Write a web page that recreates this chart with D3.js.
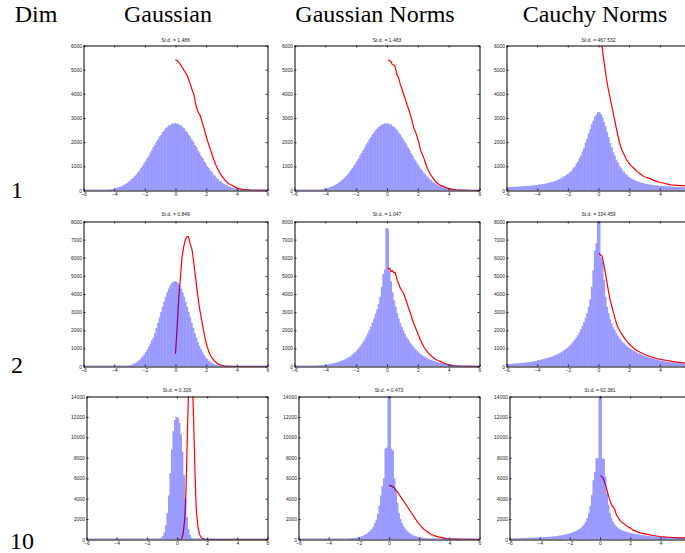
<!DOCTYPE html>
<html>
<head>
<meta charset="utf-8">
<script src="https://cdn.jsdelivr.net/npm/d3@7"></script>
<style>
body { margin: 0; background: #fff; }
svg text { font-family: "Liberation Sans", Arial, sans-serif; }
.head { font-family: "Liberation Serif", "Times New Roman", serif; font-size: 24px; fill: #000; }
</style>
</head>
<body>
<svg id="chart" width="685" height="553"></svg>
<script>
var columns = ['Gaussian', 'Gaussian Norms', 'Cauchy Norms']
var dims = ['1', '2', '10']
var stds = [['1.486', '1.483', '467.532'], ['0.849', '1.047', '334.459'], ['0.326', '0.473', '62.381']]

var xTicks = [-6, -4, -2, 0, 2, 4, 6]
var yTicks1 = [0, 1000, 2000, 3000, 4000, 5000, 6000]
var yTicks2 = [0, 1000, 2000, 3000, 4000, 5000, 6000, 7000, 8000]
var yTicks10 = [0, 2000, 4000, 6000, 8000, 10000, 12000, 14000]

// histogram counts, bins of 0.1 from -6 to 6
var binStart = -6
var binWidth = 0.1

var gauss1 = [1,2,2,3,3,4,5,6,7,9,
  11,14,17,22,27,34,41,50,61,75,
  88,107,124,150,172,206,235,276,313,365,
  412,476,530,606,672,760,835,936,1020,1130,
  1220,1345,1440,1566,1662,1795,1890,2020,2105,2230,
  2305,2420,2475,2580,2615,2700,2710,2775,2760,2790,
  2765,2770,2710,2695,2615,2580,2475,2420,2300,2230,
  2100,2025,1880,1800,1660,1570,1430,1350,1215,1140,
  1010,945,830,770,665,615,525,480,405,370,
  310,280,230,210,170,152,122,108,86,76,
  60,51,40,35,27,23,18,15,12,10,
  8,7,6,5,4,3,3,2,2,1]

var gaussNorm1 = [2,2,3,3,4,4,5,7,8,9,
  12,13,18,21,28,33,42,49,62,73,
  90,104,127,146,176,201,238,271,318,360,
  418,470,537,598,680,752,842,928,1030,1120,
  1230,1330,1452,1550,1675,1780,1905,2000,2120,2210,
  2320,2400,2490,2560,2630,2675,2730,2745,2780,2760,
  2775,2745,2730,2670,2630,2555,2495,2395,2320,2205,
  2120,1995,1905,1775,1680,1545,1450,1325,1235,1115,
  1030,920,845,745,685,595,540,465,420,358,
  320,268,240,200,177,145,128,103,91,72,
  62,48,42,33,28,21,18,14,12,9,
  8,6,6,4,4,3,3,2,2,1]

var cauchyNorm1 = [140,146,143,150,148,157,152,163,160,170,
  172,179,178,189,188,199,200,212,213,225,
  236,251,254,270,275,294,300,322,330,356,
  366,395,410,446,466,512,535,588,614,668,
  700,768,822,920,990,1112,1200,1345,1450,1615,
  1770,1975,2140,2365,2530,2745,2890,3055,3140,3240,
  3250,3160,3040,2835,2660,2415,2210,1965,1790,1590,
  1440,1270,1160,1020,940,830,770,680,640,570,
  535,485,460,420,400,365,355,326,314,292,
  283,265,259,243,239,225,222,209,207,195,
  194,184,183,174,173,165,165,157,157,150,
  151,144,145,138,140,134,136,130,132,127]

var gauss2 = [0,0,0,0,0,0,0,0,0,0,
  1,1,1,1,1,2,2,2,3,3,
  4,5,7,9,12,17,23,32,43,58,
  78,104,137,178,228,290,365,450,550,660,
  790,930,1090,1260,1450,1590,1840,2120,2400,2700,
  3000,3300,3580,3850,4090,4300,4470,4600,4670,4700,
  4670,4600,4470,4300,4090,3850,3580,3300,3000,2700,
  2400,2120,1840,1590,1350,1140,950,780,640,510,
  408,322,251,194,147,111,83,61,44,32,
  23,16,11,8,5,4,3,2,1,1,
  0,0,0,0,0,0,0,0,0,0,
  0,0,0,0,0,0,0,0,0,0]

var gaussNorm2 = [19,20,21,22,24,26,28,30,33,36,
  40,44,48,53,59,65,72,80,88,97,
  108,120,135,150,165,185,205,230,255,285,
  315,350,390,430,480,530,590,660,730,810,
  900,1000,1110,1230,1360,1500,1650,1820,2000,2200,
  2420,2650,2900,3150,3450,3850,4400,5100,5350,7650,
  7600,5300,4700,4100,3650,3300,2950,2650,2400,2180,
  1980,1800,1640,1500,1370,1250,1140,1040,940,850,
  770,700,630,570,520,470,430,390,355,320,
  290,265,240,215,195,178,160,145,132,120,
  108,98,88,80,72,65,58,52,47,42,
  38,34,31,28,26,24,22,20,19,18]

var cauchyNorm2 = [137,142,147,152,158,164,170,177,184,192,
  200,210,220,230,241,253,266,280,295,310,
  345,362,380,400,420,440,465,490,515,545,
  575,610,650,690,735,780,830,890,950,1020,
  1100,1180,1270,1370,1480,1600,1730,1880,2050,2250,
  2450,2700,2950,3300,3700,4400,5300,6400,6800,10500,
  9500,6000,5800,4800,3850,3300,2950,2600,2380,2170,
  2000,1830,1690,1570,1450,1360,1270,1190,1110,1050,
  990,930,880,830,785,745,705,670,635,600,
  570,540,510,480,455,430,405,385,365,345,
  320,305,290,276,262,250,238,227,216,206,
  196,187,178,170,162,155,148,142,136,130]

var gauss10 = [0,0,0,0,0,0,0,0,0,0,
  0,0,0,0,0,0,0,0,0,0,
  0,0,0,0,0,0,0,0,0,0,
  0,0,0,0,0,0,0,0,0,0,
  0,0,0,1,2,5,12,28,60,150,
  330,700,1400,2600,4300,6500,8800,10600,11700,12000,
  11900,11400,10300,8600,6300,4000,2200,1050,450,170,
  60,20,7,3,1,0,0,0,0,0,
  0,0,0,0,0,0,0,0,0,0,
  0,0,0,0,0,0,0,0,0,0,
  0,0,0,0,0,0,0,0,0,0,
  0,0,0,0,0,0,0,0,0,0]

var gaussNorm10 = [4,5,5,5,6,6,7,7,8,8,
  9,10,11,12,13,14,15,17,19,21,
  23,26,29,32,36,40,45,50,56,63,
  71,80,90,102,116,132,150,170,195,225,
  260,300,350,420,500,600,730,870,1030,1200,
  1600,1950,2500,3300,4300,5200,6000,8900,9000,16500,
  15500,8900,8700,6000,4800,3600,2600,2000,1600,1300,
  1080,900,750,630,530,450,380,325,280,245,
  215,188,165,145,127,112,99,88,78,69,
  61,54,48,42,37,33,29,26,23,20,
  18,16,14,13,12,11,10,9,8,8,
  7,7,6,6,5,5,5,4,4,4]

var cauchyNorm10 = [100,105,110,115,120,125,130,135,140,145,
  150,155,160,166,172,178,184,191,198,205,
  213,221,230,240,250,260,270,282,295,310,
  325,345,365,390,415,445,475,510,550,590,
  640,690,750,810,880,960,1050,1170,1330,1500,
  1750,2100,2600,3300,4350,5800,6600,7950,7950,16500,
  15000,7950,7900,6150,4500,3400,2600,2100,1750,1480,
  1300,1170,1060,980,910,850,795,745,700,660,
  620,585,555,525,500,475,452,430,410,392,
  375,358,342,328,314,301,289,278,268,258,
  249,240,232,224,217,210,203,196,190,184,
  178,173,168,163,158,153,149,145,141,137]

// red curves as [x, count]
var gauss1Curve = [[0,5420],[0.15,5350],[0.33,5210],[0.45,5080],[0.54,4990],[0.65,4880],[0.76,4780],[0.87,4560],[0.98,4380],[1.09,4150],[1.2,3970],[1.3,3620],[1.41,3350],[1.52,3200],[1.63,3070],[1.74,2820],[1.85,2590],[1.96,2350],[2.07,2100],[2.17,1900],[2.28,1690],[2.39,1480],[2.5,1270],[2.61,1090],[2.72,930],[2.88,750],[3.04,580],[3.2,450],[3.37,330],[3.53,260],[3.7,210],[3.86,150],[4.02,100],[4.24,65],[4.46,40],[4.7,25],[4.9,15],[5.3,6],[5.7,2],[6,0]]

var gaussNorm1Curve = [[0.04,5410],[0.15,5380],[0.26,5340],[0.33,5230],[0.39,5200],[0.5,5170],[0.58,4980],[0.65,4790],[0.76,4650],[0.87,4370],[0.98,4170],[1.09,3960],[1.2,3760],[1.3,3540],[1.41,3350],[1.52,3130],[1.63,2870],[1.74,2580],[1.85,2420],[1.96,2230],[2.07,1960],[2.17,1680],[2.28,1510],[2.39,1340],[2.5,1130],[2.61,920],[2.72,780],[2.83,650],[3.0,500],[3.15,370],[3.3,290],[3.48,210],[3.7,150],[3.91,100],[4.2,55],[4.46,30],[4.8,12],[5.2,4],[6,0]]

var cauchyNorm1Curve = [[0,7600],[0.1,6900],[0.18,6300],[0.29,5630],[0.4,5150],[0.51,4660],[0.62,4250],[0.73,3900],[0.85,3550],[0.96,3210],[1.07,2860],[1.18,2520],[1.29,2200],[1.4,1900],[1.51,1700],[1.62,1550],[1.73,1400],[1.84,1270],[1.95,1160],[2.07,1065],[2.18,1000],[2.29,930],[2.4,860],[2.51,790],[2.73,680],[2.96,580],[3.18,530],[3.4,480],[3.62,420],[3.84,370],[4.06,330],[4.29,300],[4.51,265],[4.73,235],[4.95,222],[5.18,210],[5.45,200],[5.73,190],[6,185]]

var gauss2Curve = [[0,700],[0.05,1400],[0.11,2200],[0.16,3000],[0.22,3860],[0.27,4400],[0.33,4960],[0.38,5550],[0.43,6070],[0.49,6380],[0.54,6620],[0.6,6830],[0.65,6990],[0.71,7100],[0.76,7170],[0.85,7170],[0.92,6900],[1.0,6650],[1.08,6430],[1.19,5750],[1.3,4960],[1.41,4200],[1.52,3490],[1.63,2900],[1.74,2390],[1.85,1900],[1.95,1470],[2.06,1120],[2.17,830],[2.28,620],[2.39,460],[2.55,300],[2.71,180],[2.87,100],[3.04,55],[3.2,25],[3.36,10],[3.6,3],[4,0],[6,0]]

var gaussNorm2Curve = [[0.04,5390],[0.1,5400],[0.17,5420],[0.22,5330],[0.26,5240],[0.3,5270],[0.35,5290],[0.39,5230],[0.43,5180],[0.49,5200],[0.54,5180],[0.6,4980],[0.65,4780],[0.76,4550],[0.87,4320],[0.97,4180],[1.08,4040],[1.19,3760],[1.3,3490],[1.41,3210],[1.52,2940],[1.62,2660],[1.73,2390],[1.84,2150],[1.95,1930],[2.06,1700],[2.16,1470],[2.27,1280],[2.38,1100],[2.49,960],[2.6,830],[2.7,730],[2.81,640],[2.97,510],[3.14,400],[3.3,330],[3.46,280],[3.62,210],[3.79,150],[3.95,110],[4.11,75],[4.4,40],[4.76,20],[5.2,8],[6,0]]

var cauchyNorm2Curve = [[0.04,6250],[0.13,6150],[0.22,6100],[0.28,5900],[0.33,5700],[0.38,5470],[0.43,5240],[0.49,4960],[0.54,4690],[0.6,4410],[0.65,4140],[0.71,3900],[0.76,3680],[0.82,3490],[0.87,3310],[0.93,3120],[0.98,2940],[1.04,2780],[1.09,2610],[1.15,2450],[1.2,2300],[1.3,2110],[1.41,1930],[1.52,1790],[1.63,1650],[1.74,1510],[1.85,1380],[2.01,1240],[2.17,1100],[2.33,990],[2.5,880],[2.71,790],[2.93,700],[3.15,620],[3.37,550],[3.58,490],[3.8,440],[4.13,380],[4.46,330],[4.79,285],[5.11,240],[5.38,210],[5.65,180],[6,160]]

var gauss10Curve = [[0,0],[0.2,0],[0.3,50],[0.4,500],[0.5,1800],[0.55,3000],[0.6,5000],[0.65,8000],[0.7,11000],[0.75,13800],[0.8,16000],[0.85,17300],[0.9,17700],[0.95,17300],[1.0,16000],[1.05,14200],[1.1,11700],[1.15,9000],[1.2,6200],[1.25,4000],[1.3,2500],[1.4,1100],[1.5,500],[1.6,200],[1.7,80],[1.85,20],[2,0],[6,0]]

var gaussNorm10Curve = [[0,5330],[0.06,5290],[0.11,5230],[0.17,5250],[0.22,5170],[0.28,5150],[0.33,5100],[0.39,4960],[0.44,4840],[0.5,4760],[0.55,4680],[0.66,4440],[0.77,4190],[0.88,3950],[1.0,3700],[1.11,3450],[1.22,3210],[1.33,2960],[1.44,2720],[1.55,2470],[1.66,2220],[1.77,1980],[1.88,1730],[1.99,1530],[2.1,1340],[2.21,1170],[2.32,1010],[2.43,870],[2.55,750],[2.66,630],[2.77,520],[2.94,420],[3.1,330],[3.27,260],[3.43,200],[3.66,130],[3.88,65],[4.1,45],[4.33,30],[4.8,12],[5.3,4],[6,0]]

var cauchyNorm10Curve = [[0.04,6250],[0.11,6150],[0.18,6080],[0.22,5950],[0.26,5820],[0.33,5500],[0.4,5170],[0.48,4750],[0.55,4350],[0.6,4100],[0.66,3860],[0.71,3600],[0.77,3370],[0.82,3280],[0.88,3210],[0.93,3050],[0.99,2880],[1.04,2630],[1.1,2390],[1.21,2150],[1.32,1900],[1.43,1720],[1.55,1570],[1.66,1450],[1.77,1340],[1.88,1230],[1.99,1140],[2.1,1020],[2.2,915],[2.43,770],[2.65,650],[2.87,580],[3.09,520],[3.31,450],[3.53,390],[3.75,340],[3.97,295],[4.2,260],[4.42,230],[4.64,210],[4.86,195],[5.08,180],[5.3,165],[5.65,150],[6,140]]

var hists = [[gauss1, gaussNorm1, cauchyNorm1], [gauss2, gaussNorm2, cauchyNorm2], [gauss10, gaussNorm10, cauchyNorm10]]
var curves = [[gauss1Curve, gaussNorm1Curve, cauchyNorm1Curve], [gauss2Curve, gaussNorm2Curve, cauchyNorm2Curve], [gauss10Curve, gaussNorm10Curve, cauchyNorm10Curve]]
var yTicks = [yTicks1, yTicks2, yTicks10]

// layout of the 3x3 grid (pixels)
var W = 685, H = 553
var rowTop = [45.5, 221.5, 396.5]
var rowBottom = [190.5, 366.5, 539.5]
var titleY = [41.5, 216, 392]
var colLeft = [[83.5, 294.5, 506.5], [83.5, 294.5, 506.5], [86.5, 298.5, 509.5]]
var colRight = [267.5, 479.5, 690.5]
var headX = [36, 168, 375, 595]
var dimX = [17, 17, 22]
var dimY = [198, 373, 549]

var svg = d3.select('#chart')
svg.append('rect').attr('width', W).attr('height', H).attr('fill', '#fff')

svg.selectAll('.head').data(['Dim'].concat(columns)).join('text')
  .attr('class', 'head')
  .attr('x', (d, i) => headX[i])
  .attr('y', 22)
  .attr('text-anchor', 'middle')
  .text(d => d)

svg.selectAll('.dim').data(dims).join('text')
  .attr('class', 'head dim')
  .attr('x', (d, i) => dimX[i])
  .attr('y', (d, i) => dimY[i])
  .attr('text-anchor', 'middle')
  .text(d => d)

var fmt = d3.format('d')

function drawPanel(r, c) {
  var data = hists[r][c]
  var x = d3.scaleLinear().domain([-6, 6]).range([colLeft[r][c], colRight[c]])
  var y = d3.scaleLinear().domain([0, yTicks[r][yTicks[r].length - 1]]).range([rowBottom[r], rowTop[r]])
  var id = 'clip' + r + c

  var g = svg.append('g')
  g.append('clipPath').attr('id', id).append('rect')
    .attr('x', x(-6)).attr('y', y.range()[1])
    .attr('width', x(6) - x(-6)).attr('height', y.range()[0] - y.range()[1])

  var plot = g.append('g').attr('clip-path', `url(#${id})`)

  plot.append('path').datum(curves[r][c])
    .attr('d', d3.line().x(d => x(d[0])).y(d => y(d[1])))
    .attr('fill', 'none')
    .attr('stroke', '#ff0000')
    .attr('stroke-width', 1.2)

  // bars drawn on top of the curve, translucent blue
  plot.append('g').attr('opacity', 0.4)
    .selectAll('rect').data(data).join('rect')
      .attr('x', (d, i) => x(binStart + i * binWidth))
      .attr('width', x(binWidth) - x(0) + 0.4)
      .attr('y', d => Math.min(y(d), y(0) - 1))
      .attr('height', d => Math.max(1, y(0) - y(d)))
      .attr('fill', '#0000ff')

  var bottom = g.append('g').attr('transform', `translate(0, ${y(0)})`)
    .call(d3.axisBottom(x).tickValues(xTicks).tickFormat(fmt).tickSizeInner(-2).tickSizeOuter(0).tickPadding(1.5))
  var top = g.append('g').attr('transform', `translate(0, ${y.range()[1]})`)
    .call(d3.axisTop(x).tickValues(xTicks).tickFormat('').tickSizeInner(-2).tickSizeOuter(0))
  var left = g.append('g').attr('transform', `translate(${x(-6)}, 0)`)
    .call(d3.axisLeft(y).tickValues(yTicks[r]).tickFormat(fmt).tickSizeInner(-2).tickSizeOuter(0).tickPadding(1.5))
  var right = g.append('g').attr('transform', `translate(${x(6)}, 0)`)
    .call(d3.axisRight(y).tickValues(yTicks[r]).tickFormat('').tickSizeInner(-2).tickSizeOuter(0))

  ;[bottom, top, left, right].forEach(a => {
    a.select('.domain').attr('stroke', '#000').attr('stroke-width', 1)
    a.selectAll('.tick line').attr('stroke', '#000').attr('stroke-width', 0.8)
    a.selectAll('text').attr('font-size', '5px').attr('fill', '#222')
      .style('font-family', '"Liberation Sans", Arial, sans-serif')
  })
  // the last column runs past the right edge of the figure: drop labels that fall outside
  bottom.selectAll('.tick').filter(d => x(d) + 3 > W).select('text').remove()

  g.append('text')
    .attr('x', (x(-6) + x(6)) / 2)
    .attr('y', titleY[r])
    .attr('text-anchor', 'middle')
    .attr('font-size', '5px')
    .attr('fill', '#222')
    .text('St.d. = ' + stds[r][c])
}

for (var r = 0; r < 3; r++) {
  for (var c = 0; c < 3; c++) drawPanel(r, c)
}
</script>
</body>
</html>
